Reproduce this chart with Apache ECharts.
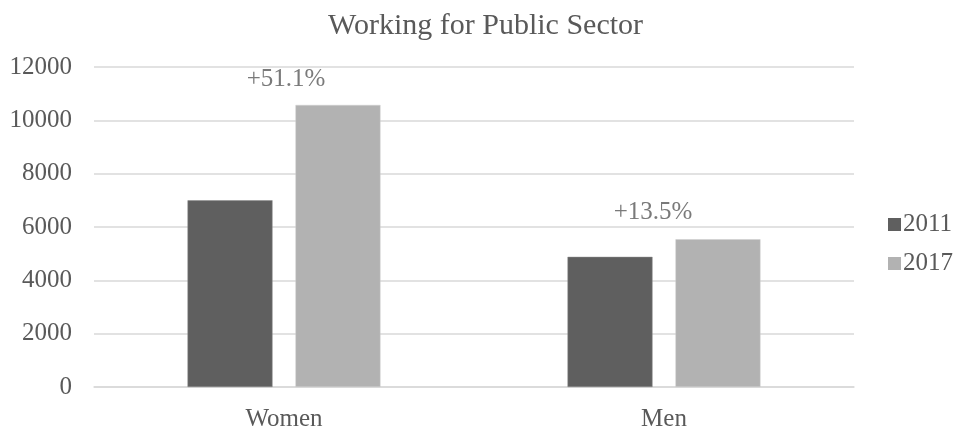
<!DOCTYPE html>
<html>
<head>
<meta charset="utf-8">
<title>Working for Public Sector</title>
<script src="https://cdn.jsdelivr.net/npm/echarts@6/dist/echarts.min.js"></script>
<style>
  html, body { margin: 0; padding: 0; background: #ffffff; }
  #chart { width: 960px; height: 432px; }
</style>
</head>
<body>
<div id="chart"></div>
<script>
// Public-sector employment by sex, 2011 vs 2017
const categories = ['Women', 'Men'];
const years = ['2011', '2017'];
const values2011 = [7000, 4880];
const values2017 = [10577, 5539];
const yTicks = [0, 2000, 4000, 6000, 8000, 10000, 12000];

// growth labels sit above each category, nudged from the 2017 bar
const labelOffsets = [[-52, -13], [-65, -14]];

const serif = "'Liberation Serif', 'Times New Roman', serif";

function growthText(i) {
  const pct = (values2017[i] / values2011[i] - 1) * 100;
  return '+' + pct.toFixed(1) + '%';
}

const chart = echarts.init(document.getElementById('chart'), null, { renderer: 'canvas' });

chart.setOption({
  animation: false,
  backgroundColor: '#ffffff',
  textStyle: { fontFamily: serif },
  title: {
    text: 'Working for Public Sector',
    left: 323,
    top: 6,
    textStyle: { fontFamily: serif, fontSize: 30, fontWeight: 'normal', color: '#595959' }
  },
  legend: {
    data: years,
    orient: 'vertical',
    left: 888,
    top: 212,
    padding: 0,
    itemWidth: 13,
    itemHeight: 13,
    itemGap: 14,
    icon: 'rect',
    itemStyle: { borderWidth: 0 },
    textStyle: { fontFamily: serif, fontSize: 25, color: '#595959', padding: [0, 0, 0, -3] }
  },
  grid: { left: 94, right: 106, top: 67, bottom: 45, containLabel: false },
  xAxis: {
    type: 'category',
    data: categories,
    axisLine: { show: true, lineStyle: { color: '#d9d9d9', width: 1.5 } },
    axisTick: { show: false },
    axisLabel: { fontFamily: serif, fontSize: 25, color: '#595959', margin: 20 }
  },
  yAxis: {
    type: 'value',
    min: yTicks[0],
    max: yTicks[yTicks.length - 1],
    interval: yTicks[1] - yTicks[0],
    axisLine: { show: false },
    axisTick: { show: false },
    axisLabel: {
      fontFamily: serif,
      fontSize: 25,
      color: '#595959',
      margin: 22,
      formatter: v => String(v)
    },
    splitLine: { lineStyle: { color: '#d9d9d9', width: 1.5 } }
  },
  series: [
    {
      name: years[0],
      type: 'bar',
      data: values2011,
      barWidth: 85,
      barGap: '27%',
      itemStyle: { color: '#5f5f5f', borderColor: '#8a8a8a', borderWidth: 0.5 }
    },
    {
      name: years[1],
      type: 'bar',
      data: values2017.map((v, i) => ({
        value: v,
        label: { offset: labelOffsets[i] }
      })),
      barWidth: 85,
      barGap: '27%',
      itemStyle: { color: '#b2b2b2', borderColor: '#cfcfcf', borderWidth: 0.5 },
      label: {
        show: true,
        position: 'top',
        distance: 0,
        fontFamily: serif,
        fontSize: 25,
        color: '#7a7a7a',
        formatter: p => growthText(p.dataIndex)
      }
    }
  ]
});
</script>
</body>
</html>
